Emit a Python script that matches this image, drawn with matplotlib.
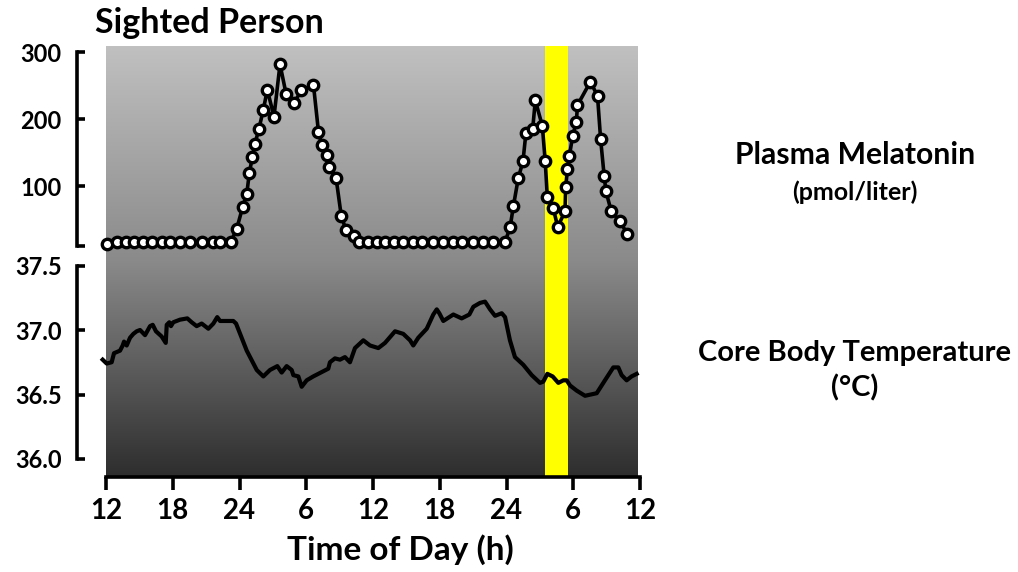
import numpy as np
import matplotlib
matplotlib.use('Agg')
import matplotlib.pyplot as plt
from matplotlib.colors import LinearSegmentedColormap

plt.rcParams['font.family'] = ['Lato', 'DejaVu Sans']
plt.rcParams['font.weight'] = 'bold'

# hours since noon on day 1 (0..48)
mel_hours = [0.12, 0.96, 1.77, 2.52, 3.3, 4.1, 5.0, 5.78, 6.65, 7.55, 8.66, 9.64, 10.25, 11.24,
             11.75, 12.29, 12.65, 12.88, 13.15, 13.39, 13.75, 14.14, 14.5, 15.1, 15.64, 16.2,
             16.9, 17.55, 18.65, 19.1, 19.4, 19.85, 20.04, 20.68, 21.15, 21.58, 22.3, 22.77,
             23.58, 24.33, 25.08, 25.89, 26.73, 27.57, 28.43, 29.36, 30.32, 31.22, 32.03,
             32.96, 33.86, 34.81, 35.87, 36.33, 36.62, 37.06, 37.48, 37.75, 38.35, 38.59,
             39.22, 39.48, 39.67, 40.2, 40.6, 41.26, 41.32, 41.48, 41.65, 41.95, 42.28, 42.38,
             43.54, 44.18, 44.46, 44.78, 44.94, 45.42, 46.23, 46.85]
mel_values = [13, 17, 17, 17, 17, 17, 17, 17, 17, 16, 16, 17, 17, 17,
              36, 69, 88, 119, 143, 163, 186, 214, 244, 204, 282, 237,
              224, 243, 251, 181, 161, 146, 129, 112, 55, 34, 25, 16,
              16, 16, 16, 16, 16, 16, 16, 16, 16, 16, 16,
              16, 16, 16, 16, 39, 70, 112, 137, 180, 185, 228,
              190, 137, 83, 67, 39, 62, 99, 125, 145, 175, 196, 221,
              256, 235, 170, 115, 92, 62, 47, 28]

temp_hours = [-0.3, 0.06, 0.51, 0.72, 1.26, 1.5, 1.62, 1.86, 2.16, 2.46, 2.76, 3.06, 3.51, 3.96,
              4.2, 4.49, 5.0, 5.37, 5.46, 5.69, 5.84, 6.05, 6.65, 7.31, 7.7, 8.15, 8.6, 9.2,
              9.65, 10.0, 10.25, 11.44, 11.69, 12.65, 13.55, 14.14, 14.74, 15.4, 15.79, 16.24,
              16.69, 16.84, 17.29, 17.59, 18.04, 18.63, 19.53, 19.98, 20.13, 20.58, 21.03,
              21.48, 21.93, 22.38, 23.13, 23.73, 24.48, 25.08, 25.98, 26.72, 27.33, 27.62,
              28.07, 28.83, 29.42, 29.73, 29.96, 30.32, 31.22, 31.97, 32.66, 33.02, 33.62,
              34.07, 34.52, 34.97, 35.57, 35.87, 36.31, 36.76, 37.51, 38.27, 39.01, 39.31,
              39.67, 40.15, 40.66, 41.11, 41.41, 41.71, 42.31, 43.06, 44.11, 44.85, 45.6,
              46.05, 46.35, 46.8, 47.24, 47.7]
temp_values = [36.77, 36.74, 36.75, 36.82, 36.84, 36.88, 36.91, 36.88, 36.94, 36.97, 36.99, 37.0,
               36.96, 37.03, 37.04, 36.99, 36.95, 36.9, 37.04, 37.06, 37.03, 37.06, 37.08, 37.09,
               37.06, 37.03, 37.05, 37.01, 37.05, 37.1, 37.07, 37.07, 37.05, 36.84, 36.69, 36.64,
               36.69, 36.72, 36.67, 36.72, 36.69, 36.65, 36.64, 36.56, 36.61, 36.64, 36.68, 36.7,
               36.75, 36.78, 36.77, 36.79, 36.75, 36.86, 36.92, 36.88, 36.86, 36.9, 36.99, 36.97,
               36.92, 36.88, 36.94, 37.01, 37.12, 37.16, 37.13, 37.07, 37.12, 37.09, 37.12,
               37.18, 37.21, 37.22, 37.16, 37.11, 37.13, 37.1, 36.92, 36.79, 36.73, 36.65, 36.59,
               36.6, 36.66, 36.64, 36.59, 36.61, 36.61, 36.57, 36.53, 36.49, 36.51, 36.61, 36.71,
               36.71, 36.65, 36.61, 36.64, 36.66]

x_ticks = [0, 6, 12, 18, 24, 30, 36, 42, 48]
x_labels = ['12', '18', '24', '6', '12', '18', '24', '6', '12']
light_pulse = (39.5, 41.5)

fig = plt.figure(figsize=(10.18, 5.72), dpi=100)
pos = [106 / 1018, 96 / 572, 534 / 1018, 430 / 572]

# background + time axis
ax = fig.add_axes(pos)
grad = np.linspace(0, 1, 256).reshape(-1, 1)
cmap = LinearSegmentedColormap.from_list('bg', ['#c0c0c0', '#8a8a8a', '#2e2e2e'])
ax.imshow(grad, cmap=cmap, aspect='auto', extent=[0, 47.8, 0, 1], origin='upper', zorder=0)
ax.axvspan(*light_pulse, color='#ffff00', zorder=1, lw=0)
ax.set_xlim(0, 48)
ax.set_ylim(0, 1)
for s in ['top', 'right', 'left']:
    ax.spines[s].set_visible(False)
ax.spines['bottom'].set_linewidth(2.6)
ax.spines['bottom'].set_position(('outward', 1))
ax.set_yticks([])
ax.set_xticks(x_ticks)
ax.set_xticklabels(x_labels)
ax.tick_params(axis='x', direction='out', length=9, width=2.6, labelsize=20, pad=6)

# temperature
ax_t = fig.add_axes(pos, sharex=ax)
ax_t.patch.set_visible(False)
ax_t.plot(temp_hours, temp_values, color='k', lw=3, zorder=3, clip_on=False)
ax_t.set_ylim(37.0 - 146 / 129, 37.0 + 284 / 129)
for s in ['top', 'right', 'bottom']:
    ax_t.spines[s].set_visible(False)
ax_t.spines['left'].set_position(('outward', 21))
ax_t.spines['left'].set_bounds(36.0, 37.5)
ax_t.spines['left'].set_linewidth(2.6)
ax_t.set_yticks([36.0, 36.5, 37.0, 37.5])
ax_t.set_yticklabels(['36.0', '36.5', '37.0', '37.5'])
ax_t.tick_params(axis='y', direction='in', length=6, width=2.6, labelsize=17, pad=11)
ax_t.tick_params(axis='x', bottom=False, labelbottom=False)

# melatonin
ax_m = fig.add_axes(pos, sharex=ax)
ax_m.patch.set_visible(False)
ax_m.plot(mel_hours, mel_values, color='k', lw=2.6, marker='o', ms=7.5,
          mfc='white', mec='k', mew=2.4, zorder=3, clip_on=False)
ax_m.set_ylim(-333.7, 309.5)
for s in ['top', 'right', 'bottom']:
    ax_m.spines[s].set_visible(False)
ax_m.spines['left'].set_position(('outward', 21))
ax_m.spines['left'].set_bounds(11, 300)
ax_m.spines['left'].set_linewidth(2.6)
ax_m.set_yticks([100, 200, 300])
ax_m.set_yticks([11], minor=True)
ax_m.tick_params(axis='y', which='both', direction='in', length=6, width=2.6, labelsize=17, pad=11)
ax_m.tick_params(axis='x', bottom=False, labelbottom=False)

fig.text(95 / 1018, 1 - 33 / 572, 'Sighted Person', fontsize=24.5, ha='left', va='baseline')
fig.text(400 / 1018, 1 - 550 / 572, 'Time of Day (h)', fontsize=24, ha='center', va='center')
fig.text(855 / 1018, 1 - 155 / 572, 'Plasma Melatonin', fontsize=21.7, ha='center', va='center')
fig.text(855 / 1018, 1 - 192 / 572, '(pmol/liter)', fontsize=18, ha='center', va='center')
fig.text(855 / 1018, 1 - 353 / 572, 'Core Body Temperature', fontsize=21, ha='center', va='center')
fig.text(855 / 1018, 1 - 388 / 572, '(°C)', fontsize=21, ha='center', va='center')

fig.savefig('out.png', dpi=100)
